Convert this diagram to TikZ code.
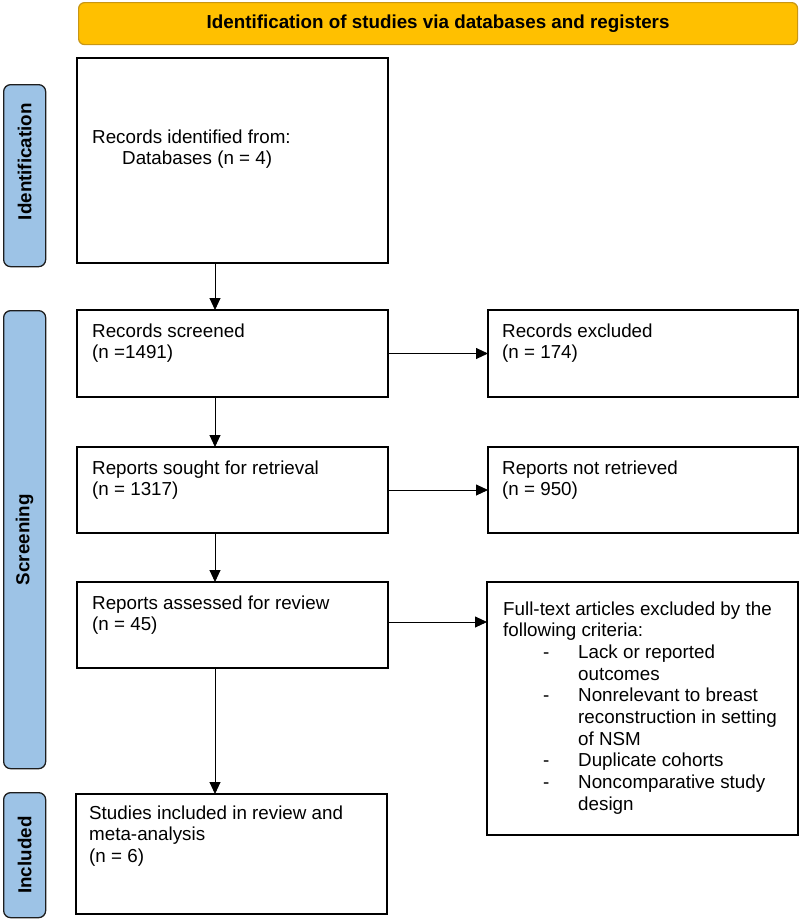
\documentclass[tikz,border=0pt]{standalone}
\usepackage{fontspec}
\setmainfont{Liberation Sans}
\usetikzlibrary{arrows.meta}
\definecolor{hdrfill}{RGB}{255,192,0}
\definecolor{hdrline}{RGB}{200,150,20}
\definecolor{sidefill}{RGB}{157,195,230}
\definecolor{sideline}{RGB}{30,30,30}
\newcommand{\boxtext}[1]{\fontsize{18.8}{21.7}\selectfont\begin{tabular}[t]{@{}l@{}}#1\end{tabular}}
\newcommand{\dashitem}{\makebox[75pt][l]{\hspace*{40pt}-}}
\tikzset{
  boxnode/.style={draw=black, line width=1.4pt, anchor=north west, inner sep=0pt, outer sep=0pt},
  txt/.style={anchor=base west, inner sep=0pt},
  sidebar/.style={draw=sideline, fill=sidefill, line width=1.3pt, rounded corners=7pt, anchor=north west, inner sep=0pt},
  sidetxt/.style={rotate=90, font=\bfseries\fontsize{18.8}{21.7}\selectfont, inner sep=0pt},
  arr/.style={line width=0.9pt, -{Triangle[length=12pt,width=11pt]}}
}
\begin{document}
\begin{tikzpicture}[x=1pt,y=-1pt]
\useasboundingbox (0,0) rectangle (800,919);
% header
\node[draw=hdrline, fill=hdrfill, line width=1.2pt, rounded corners=6pt, anchor=north west,
      minimum width=719pt, minimum height=42pt, inner sep=0pt,
      font=\bfseries\fontsize{18.8}{21.7}\selectfont] (hdr) at (78,2) {Identification of studies via databases and registers};
% side bars
\node[sidebar, minimum width=42pt, minimum height=182pt] (sid) at (3,84) {};
\node[sidetxt] at ([yshift=14pt]sid.center) {Identification};
\node[sidebar, minimum width=42pt, minimum height=458pt] (ssc) at (3,310) {};
\node[sidetxt] at (ssc.center) {Screening};
\node[sidebar, minimum width=42pt, minimum height=125pt] (sin) at (3,792) {};
\node[sidetxt] at (sin.center) {Included};
% left column boxes
\node[boxnode, minimum width=311pt, minimum height=205pt] (b1) at (77,58) {};
\node[txt] at (92,143) {\boxtext{Records identified from:\\\hspace*{30pt}Databases (n = 4)}};
\node[boxnode, minimum width=311pt, minimum height=87pt] (b2) at (77,310) {};
\node[txt] at (92,337) {\boxtext{Records screened\\(n =1491)}};
\node[boxnode, minimum width=311pt, minimum height=86pt] (b3) at (77,447) {};
\node[txt] at (92,474) {\boxtext{Reports sought for retrieval\\(n = 1317)}};
\node[boxnode, minimum width=311pt, minimum height=86pt] (b4) at (77,582) {};
\node[txt] at (92,609) {\boxtext{Reports assessed for review\\(n = 45)}};
\node[boxnode, minimum width=311pt, minimum height=120pt] (b5) at (76,794) {};
\node[txt] at (89,819) {\boxtext{Studies included in review and\\meta-analysis\\(n = 6)}};
% right column boxes
\node[boxnode, minimum width=310pt, minimum height=87pt] (r1) at (488,310) {};
\node[txt] at (502,337) {\boxtext{Records excluded\\(n = 174)}};
\node[boxnode, minimum width=310pt, minimum height=86pt] (r2) at (488,447) {};
\node[txt] at (502,474) {\boxtext{Reports not retrieved\\(n = 950)}};
\node[boxnode, minimum width=311pt, minimum height=253pt] (r3) at (487,582) {};
\node[txt] at (503,615) {\boxtext{Full-text articles excluded by the\\following criteria:\\
\dashitem Lack or reported\\
\hspace*{75pt}outcomes\\
\dashitem Nonrelevant to breast\\
\hspace*{75pt}reconstruction in setting\\
\hspace*{75pt}of NSM\\
\dashitem Duplicate cohorts\\
\dashitem Noncomparative study\\
\hspace*{75pt}design}};
% vertical arrows
\draw[arr] ([xshift=-17.5pt]b1.south) -- ([xshift=-17.5pt]b2.north);
\draw[arr] ([xshift=-17.5pt]b2.south) -- ([xshift=-17.5pt]b3.north);
\draw[arr] ([xshift=-17.5pt]b3.south) -- ([xshift=-17.5pt]b4.north);
\draw[arr] ([xshift=-17.5pt]b4.south) -- ([xshift=-16.5pt]b5.north);
% horizontal arrows
\draw[arr] (b2.east) -- (b2.east -| r1.west);
\draw[arr] (b3.east) -- (b3.east -| r2.west);
\draw[arr] ([yshift=3pt]b4.east) -- ([yshift=3pt]b4.east -| r3.west);
\end{tikzpicture}
\end{document}
